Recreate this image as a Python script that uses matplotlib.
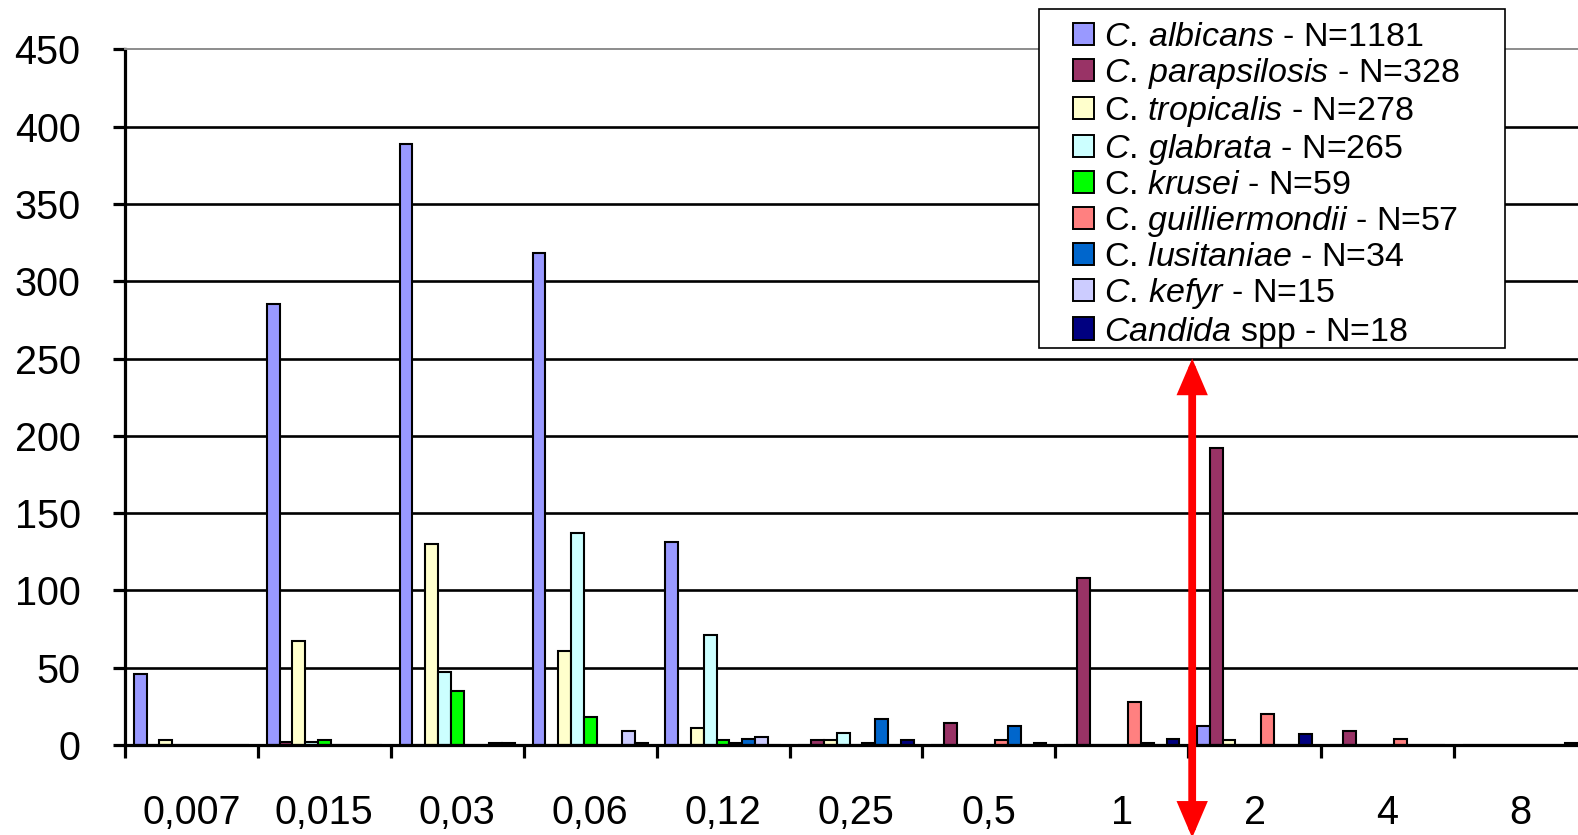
import numpy as np
import matplotlib
matplotlib.use("Agg")
import matplotlib.pyplot as plt
from matplotlib.patches import Rectangle

plt.rcParams['font.family'] = ['Liberation Sans', 'DejaVu Sans']
plt.rcParams['mathtext.fontset'] = 'custom'
plt.rcParams['mathtext.rm'] = 'Liberation Sans'
plt.rcParams['mathtext.it'] = 'Liberation Sans:italic'

# ---------------- data ----------------
categories = ['0,007', '0,015', '0,03', '0,06', '0,12', '0,25', '0,5', '1', '2', '4', '8']

albicans       = [46, 285, 389, 318, 131, 0, 0, 0, 12, 0, 0]
parapsilosis   = [0, 2, 0, 0, 0, 3, 14, 108, 192, 9, 0]
tropicalis     = [3, 67, 130, 61, 11, 3, 0, 0, 3, 0, 0]
glabrata       = [0, 2, 47, 137, 71, 8, 0, 0, 0, 0, 0]
krusei         = [0, 3, 35, 18, 3, 0, 0, 0, 0, 0, 0]
guilliermondii = [0, 0, 0, 0, 1, 1, 3, 28, 20, 4, 0]
lusitaniae     = [0, 0, 0, 0, 4, 17, 12, 1, 0, 0, 0]
kefyr          = [0, 0, 1, 9, 5, 0, 0, 0, 0, 0, 0]
candida_spp    = [0, 0, 1, 1, 0, 3, 1, 4, 7, 0, 1]

series = [albicans, parapsilosis, tropicalis, glabrata, krusei,
          guilliermondii, lusitaniae, kefyr, candida_spp]
labels = [
    r'$\mathit{C.\,albicans}$ - N=1181',
    r'$\mathit{C.\,parapsilosis}$ - N=328',
    r'C. $\mathit{tropicalis}$ - N=278',
    r'$\mathit{C.\,glabrata}$ - N=265',
    r'C. $\mathit{krusei}$ - N=59',
    r'C. $\mathit{guilliermondii}$ - N=57',
    r'C. $\mathit{lusitaniae}$ - N=34',
    r'$\mathit{C.\,kefyr}$ - N=15',
    r'$\mathit{Candida}$ spp - N=18',
]
colors = ['#9999FF', '#993366', '#FFFFCC', '#CCFFFF', '#00FF00',
          '#FF8080', '#0066CC', '#CCCCFF', '#000080']
yticks = [0, 50, 100, 150, 200, 250, 300, 350, 400, 450]
arrow_x = 8.03
arrow_top, arrow_bottom = 250, -60

# ---------------- figure ----------------
W, H = 1578, 835
fig = plt.figure(figsize=(W / 100, H / 100), dpi=100)
ax = fig.add_axes([125 / W, 90 / H, 11 * 132.9 / W, 695.7 / H])

n = len(series)
bw = 0.0963
centers = np.arange(len(categories)) + 0.5
for i, (vals, col) in enumerate(zip(series, colors)):
    ax.bar(centers + (i - (n - 1) / 2) * bw, vals, width=bw, color=col,
           edgecolor='black', linewidth=1.5, zorder=2)

for v in yticks[1:-1]:
    ax.axhline(v, color='black', lw=1.9, zorder=0.5)

ax.set_xlim(0, len(categories))
ax.set_ylim(0, 450)

for s in ['left', 'bottom']:
    ax.spines[s].set_color('black')
    ax.spines[s].set_linewidth(2.3)
ax.spines['top'].set_color('#8c8c8c')
ax.spines['top'].set_linewidth(1.4)
ax.spines['right'].set_visible(False)

ax.set_yticks(yticks)
ax.set_yticklabels([str(v) for v in yticks])
ax.tick_params(axis='y', direction='out', length=9, width=2.3, pad=23,
               labelsize=28.5, colors='black')

ax.set_xticks(np.arange(0, len(categories) + 1))
ax.set_xticklabels([])
ax.set_xticks(centers, minor=True)
ax.set_xticklabels(categories, minor=True)
ax.tick_params(axis='x', which='major', direction='out', length=9, width=2.3)
ax.tick_params(axis='x', which='minor', length=0, pad=35, labelsize=28.5)

# red double arrow
ax.annotate('', xy=(arrow_x, arrow_top), xytext=(arrow_x, arrow_bottom),
            xycoords='data', textcoords='data', annotation_clip=False,
            arrowprops=dict(arrowstyle='<|-|>,head_length=0.75,head_width=0.32',
                            mutation_scale=22, color='#FF0000', lw=5.6,
                            shrinkA=0, shrinkB=0, joinstyle='miter'),
            zorder=6)

# legend box
box = Rectangle((1039 / W, 1 - 348 / H), (1505 - 1039) / W, (348 - 9) / H,
                transform=fig.transFigure, facecolor='white', edgecolor='black',
                linewidth=1.2, zorder=4)
fig.add_artist(box)

handles = [Rectangle((0, 0), 1, 1, facecolor=c, edgecolor='black', linewidth=1.4)
           for c in colors]
leg = fig.legend(handles, labels, loc='upper left',
                 bbox_to_anchor=(1073 / W, 1 - 22 / H), bbox_transform=fig.transFigure,
                 frameon=False, borderpad=0, borderaxespad=0,
                 handlelength=0.62, handleheight=0.62, handletextpad=0.3,
                 labelspacing=0.09, fontsize=24.5)
leg.set_zorder(5)

fig.savefig('out.png', dpi=100)
